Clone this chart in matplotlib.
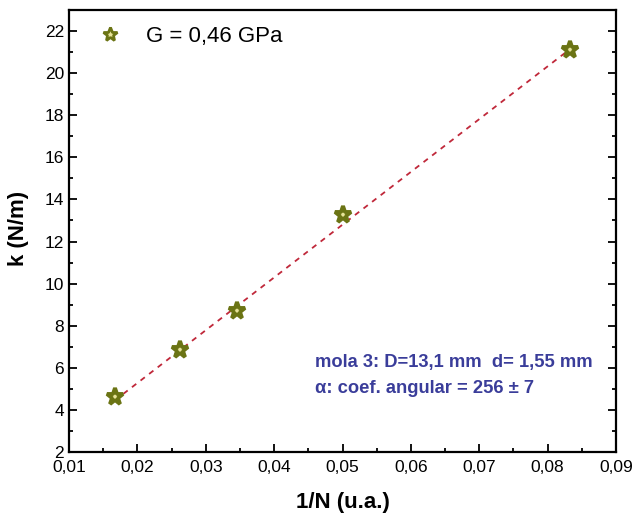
import matplotlib
matplotlib.use('Agg')
import matplotlib.pyplot as plt
from matplotlib.ticker import MultipleLocator, FuncFormatter

### Data ---------------------------------------------------------------------

inv_n = [0.0167, 0.0263, 0.0345, 0.0500, 0.0833]
k_vals = [4.6, 6.85, 8.7, 13.25, 21.1]

# dashed linear fit, endpoints as drawn
fit_x = [0.0167, 0.0833]
fit_y = [4.45, 21.15]

plt.rcParams['font.family'] = 'Liberation Sans'

fig = plt.figure(figsize=(6.35, 5.15), dpi=100)
ax = fig.add_axes([69/635., 1 - 452/515., (616-69)/635., (452-10)/515.])

ax.plot(fit_x, fit_y, '--', color='#c0283a', lw=1.3, dashes=(3, 3))
ax.plot(inv_n, k_vals, '*', mfc='#e8e49a', mec='#6b7414', mew=2.8, ms=12.5,
	label='G = 0,46 GPa', zorder=3)

ax.set_xlim(0.01, 0.09)
ax.set_ylim(2, 23)
ax.xaxis.set_major_locator(MultipleLocator(0.01))
ax.xaxis.set_minor_locator(MultipleLocator(0.005))
ax.yaxis.set_major_locator(MultipleLocator(2))
ax.yaxis.set_minor_locator(MultipleLocator(1))
ax.xaxis.set_major_formatter(FuncFormatter(lambda v, p: ('%.2f' % v).replace('.', ',')))
ax.yaxis.set_major_formatter(FuncFormatter(lambda v, p: '%d' % round(v)))

ax.tick_params(which='both', direction='in', top=False, right=True, labelsize=12.5, width=1.3)
ax.tick_params(which='major', length=6)
ax.tick_params(which='minor', length=3)
ax.tick_params(axis='x', pad=6)
for s in ax.spines.values():
	s.set_linewidth(1.6)

ax.set_xlabel('1/N (u.a.)', fontsize=16, fontweight='bold')
ax.set_ylabel('k (N/m)', fontsize=16, fontweight='bold')
ax.xaxis.set_label_coords(0.5, -0.09)
ax.yaxis.set_label_coords(-0.074, 0.505)

leg = ax.legend(loc='upper left', frameon=False, fontsize=16, handletextpad=0.6,
	borderaxespad=0.3, bbox_to_anchor=(0.006, 1.0))
leg.legend_handles[0].set_markersize(10)
leg.legend_handles[0].set_markeredgewidth(2)

ax.text(0.45, 0.192, 'mola 3: D=13,1 mm  d= 1,55 mm', transform=ax.transAxes,
	color='#3a3d9a', fontsize=13.2, fontweight='bold')
ax.text(0.45, 0.133, '\u03b1: coef. angular = 256 \u00b1 7', transform=ax.transAxes,
	color='#3a3d9a', fontsize=13.2, fontweight='bold')

plt.savefig('out.png', dpi=100)
